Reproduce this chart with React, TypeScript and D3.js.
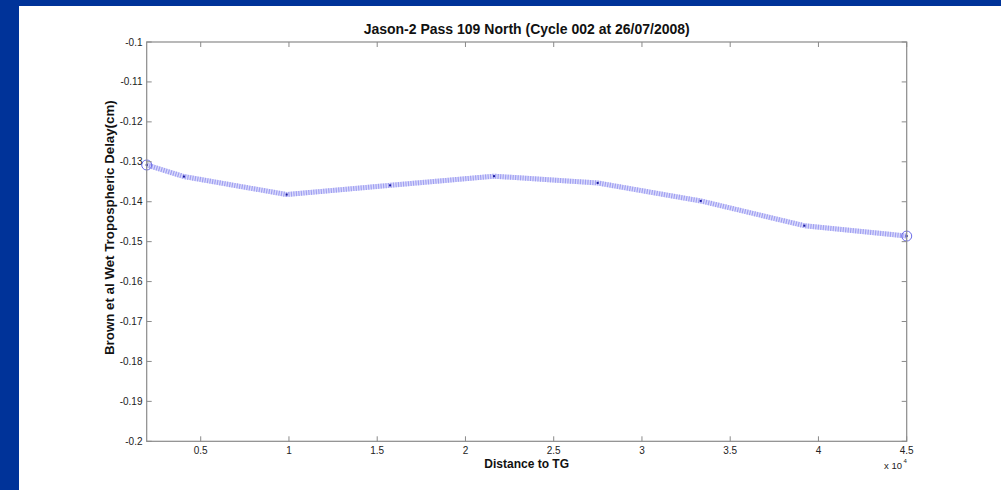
import React from "react";
import * as d3 from "d3";

const distances = [1940, 4050, 9870, 15730, 21620, 27490, 33330, 39200, 45000];
const delays = [-0.1308, -0.1337, -0.1382, -0.1359, -0.1336, -0.1353, -0.1398, -0.146, -0.1486];
const xTicks = [5000, 10000, 15000, 20000, 25000, 30000, 35000, 40000, 45000];
const yTicks = [-0.1, -0.11, -0.12, -0.13, -0.14, -0.15, -0.16, -0.17, -0.18, -0.19, -0.2];
const titleText = "Jason-2 Pass 109 North (Cycle 002 at 26/07/2008)";
const xLabel = "Distance to TG";
const yLabel = "Brown et al Wet Tropospheric Delay(cm)";

const W = 1001;
const H = 490;
const L = 146.7, R = 906.7, T = 42, B = 441.3;
const FONT = "Liberation Sans, Arial, sans-serif";
const fmt = (v: number) => String(+v.toFixed(4));

export default function App() {
  const x = d3.scaleLinear().domain([1940, 45000]).range([L, R]);
  const y = d3.scaleLinear().domain([-0.2, -0.1]).range([B, T]);
  const pts = distances.map((d, i) => [x(d), y(delays[i])] as [number, number]);
  const line = d3.line()(pts) || "";
  const axisColor = "#8a8a8a";
  const tick = 5;
  return (
    <div style={{ position: "fixed", left: 0, top: 0, width: W, height: H }}>
      <svg width={W} height={H} style={{ display: "block" }}>
        <rect x={0} y={0} width={W} height={H} fill="#003399" />
        <rect x={19} y={6} width={W - 19} height={H - 6} fill="#ffffff" />
        <text x={(L + R) / 2} y={34} textAnchor="middle" fontFamily={FONT} fontWeight="bold" fontSize={14} fill="#111">
          {titleText}
        </text>
        {/* line */}
        <path d={line} fill="none" stroke="#dcdcfb" strokeWidth={5} strokeLinejoin="round" />
        <path d={line} fill="none" stroke="#a0a0f2" strokeWidth={5} strokeDasharray="1.2,1.3" />
        {pts.map((p, i) => (
          <rect key={i} x={p[0] - 1} y={p[1] - 1} width={2} height={2} fill="#1a1aa0" />
        ))}
        <circle cx={pts[0][0]} cy={pts[0][1]} r={5} fill="none" stroke="#6a6ae8" strokeWidth={1} />
        <circle cx={pts[pts.length - 1][0]} cy={pts[pts.length - 1][1]} r={5} fill="none" stroke="#6a6ae8" strokeWidth={1} />
        {/* box */}
        <rect x={L} y={T} width={R - L} height={B - T} fill="none" stroke={axisColor} strokeWidth={1.2} />
        {xTicks.map((t) => (
          <g key={t}>
            <line x1={x(t)} x2={x(t)} y1={B} y2={B - tick} stroke={axisColor} strokeWidth={1} />
            <line x1={x(t)} x2={x(t)} y1={T} y2={T + tick} stroke={axisColor} strokeWidth={1} />
            <text x={x(t)} y={454} textAnchor="middle" fontFamily={FONT} fontSize={10} fill="#222">
              {fmt(t / 10000)}
            </text>
          </g>
        ))}
        {yTicks.map((t) => (
          <g key={t}>
            <line x1={L} x2={L + tick} y1={y(t)} y2={y(t)} stroke={axisColor} strokeWidth={1} />
            <line x1={R} x2={R - tick} y1={y(t)} y2={y(t)} stroke={axisColor} strokeWidth={1} />
            <text x={142.5} y={y(t) + 3.5} textAnchor="end" fontFamily={FONT} fontSize={10} fill="#222">
              {fmt(t)}
            </text>
          </g>
        ))}
        <text x={884} y={469} fontFamily={FONT} fontSize={9.5} fill="#222">x 10</text>
        <text x={903.5} y={463} fontFamily={FONT} fontSize={6} fill="#222">4</text>
        <text x={(L + R) / 2} y={468} textAnchor="middle" fontFamily={FONT} fontWeight="bold" fontSize={12} fill="#111">
          {xLabel}
        </text>
        <text transform={`translate(114,${(T + B) / 2 - 14}) rotate(-90)`} textAnchor="middle" fontFamily={FONT} fontWeight="bold" fontSize={13.3} fill="#111">
          {yLabel}
        </text>
      </svg>
    </div>
  );
}
